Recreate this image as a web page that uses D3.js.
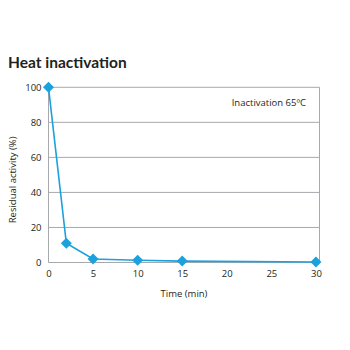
<!DOCTYPE html>
<html>
<head>
<meta charset="utf-8">
<script src="https://cdn.jsdelivr.net/npm/d3@7"></script>
<style>
  html, body { margin: 0; padding: 0; background: #fff; }
  svg { display: block; }
  text { font-family: "Open Sans", "Noto Sans", sans-serif; fill: #231f20; }
</style>
</head>
<body>
<svg id="chart" width="350" height="350"></svg>
<script>
// Residual activity after incubation at 65 °C
const timeMin = [0, 2, 5, 10, 15, 30];
const residualPct = [100, 11, 2, 1.3, 0.8, 0.3];
const xTicks = [0, 5, 10, 15, 20, 25, 30];
const yTicks = [0, 20, 40, 60, 80, 100];

const svg = d3.select("#chart");
const plotLeft = 48.5, plotRight = 319.5, plotTop = 87.3, plotBottom = 262.5;
const color = "#1ba1dc";
const frameColor = "#a7a9ac";

const x = d3.scaleLinear().domain([0, 30.4]).range([plotLeft, plotRight]);
const y = d3.scaleLinear().domain([0, 100]).range([plotBottom, plotTop]);

// title
svg.append("text")
  .attr("x", 8).attr("y", 68)
  .attr("font-size", 15.5).attr("font-weight", "bold")
  .style("font-family", "Lato, 'Open Sans', sans-serif")
  .text("Heat inactivation");

// horizontal gridlines
svg.append("g").selectAll("line")
  .data(yTicks.filter(d => d > 0))
  .join("line")
  .attr("x1", plotLeft).attr("x2", plotRight)
  .attr("y1", d => y(d)).attr("y2", d => y(d))
  .attr("stroke", frameColor).attr("stroke-width", 1);

// frame: left, right, bottom
svg.append("line").attr("x1", plotLeft).attr("x2", plotLeft).attr("y1", plotTop).attr("y2", plotBottom)
  .attr("stroke", frameColor);
svg.append("line").attr("x1", plotRight).attr("x2", plotRight).attr("y1", plotTop).attr("y2", plotBottom)
  .attr("stroke", frameColor);
svg.append("line").attr("x1", plotLeft).attr("x2", plotRight).attr("y1", plotBottom).attr("y2", plotBottom)
  .attr("stroke", frameColor);

// y axis labels
const yAxis = d3.axisLeft(y).tickValues(yTicks).tickSize(0).tickPadding(7);
const gy = svg.append("g").attr("transform", `translate(${plotLeft},0)`).call(yAxis);
gy.select(".domain").remove();
gy.selectAll("text").attr("font-size", 9.5).style("font-family", "'Open Sans', sans-serif").attr("fill", "#231f20");

// x axis labels
const xAxis = d3.axisBottom(x).tickValues(xTicks).tickSize(0).tickPadding(8);
const gx = svg.append("g").attr("transform", `translate(0,${plotBottom})`).call(xAxis);
gx.select(".domain").remove();
gx.selectAll("text").attr("font-size", 9.5).style("font-family", "'Open Sans', sans-serif").attr("fill", "#231f20");

// axis titles
svg.append("text")
  .attr("x", (plotLeft + plotRight) / 2).attr("y", 297)
  .attr("text-anchor", "middle").attr("font-size", 9.5)
  .text("Time (min)");
svg.append("text")
  .attr("transform", `translate(16,${(plotTop + plotBottom) / 2 + 5}) rotate(-90)`)
  .attr("text-anchor", "middle").attr("font-size", 9.5)
  .text("Residual activity (%)");

// annotation
svg.append("text")
  .attr("x", 306).attr("y", 106)
  .attr("text-anchor", "end").attr("font-size", 9.5)
  .text("Inactivation 65ºC");

// data line
const line = d3.line().x((d, i) => x(timeMin[i])).y(d => y(d));
svg.append("path")
  .datum(residualPct)
  .attr("d", line)
  .attr("fill", "none").attr("stroke", color).attr("stroke-width", 1.6);

// diamond markers
const diamond = d3.symbol().type(d3.symbolSquare).size(60);
svg.append("g").selectAll("path")
  .data(residualPct)
  .join("path")
  .attr("d", diamond)
  .attr("transform", (d, i) => `translate(${x(timeMin[i])},${y(d)}) rotate(45)`)
  .attr("fill", color);
</script>
</body>
</html>
